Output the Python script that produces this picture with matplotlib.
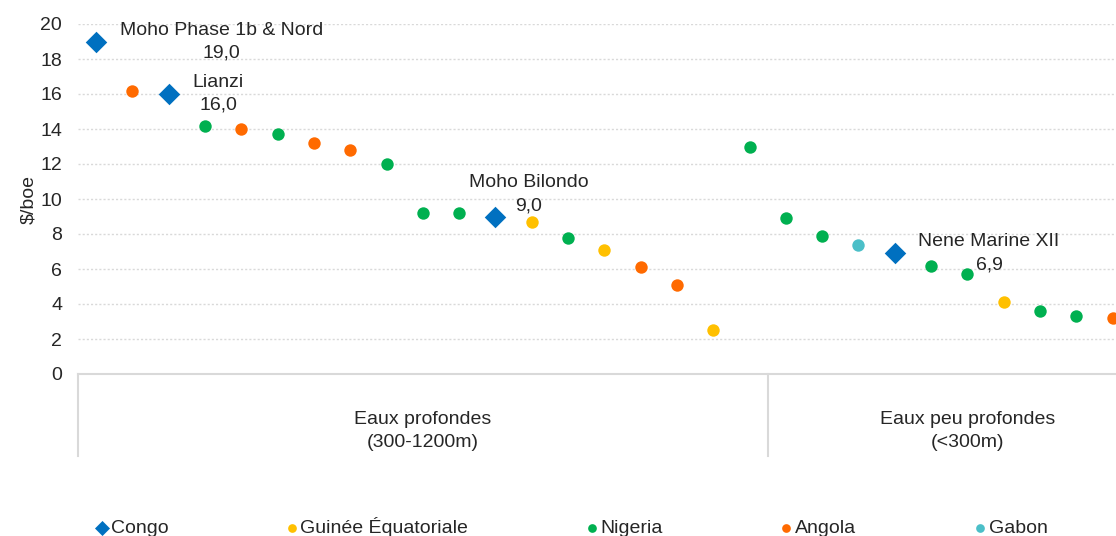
import matplotlib.pyplot as plt
import numpy as np

plt.rcParams["font.family"] = ["Liberation Sans", "DejaVu Sans"]

# one entry per project, left to right
countries = [
    "Congo", "Angola", "Congo", "Nigeria", "Angola", "Nigeria", "Angola", "Angola",
    "Nigeria", "Nigeria", "Nigeria", "Congo", "Guinée Équatoriale", "Nigeria",
    "Guinée Équatoriale", "Angola", "Angola", "Guinée Équatoriale", "Nigeria",
    "Nigeria", "Nigeria", "Gabon", "Congo", "Nigeria", "Nigeria",
    "Guinée Équatoriale", "Nigeria", "Nigeria", "Angola",
]
values = [
    19.0, 16.2, 16.0, 14.2, 14.0, 13.7, 13.2, 12.8, 12.0, 9.2, 9.2, 9.0, 8.7,
    7.8, 7.1, 6.1, 5.1, 2.5, 13.0, 8.9, 7.9, 7.4, 6.9, 6.2, 5.7, 4.1, 3.6, 3.3, 3.2,
]
# annotated Congo projects: index -> name
labels = {0: "Moho Phase 1b & Nord", 2: "Lianzi", 11: "Moho Bilondo", 22: "Nene Marine XII"}

groups = ["Eaux profondes\n(300-1200m)", "Eaux peu profondes\n(<300m)"]
group_sizes = [19, 11]

legend_order = ["Congo", "Guinée Équatoriale", "Nigeria", "Angola", "Gabon"]
colors = {
    "Congo": "#0070C0",
    "Guinée Équatoriale": "#FFC000",
    "Nigeria": "#00B050",
    "Angola": "#FF6A00",
    "Gabon": "#4BBFC8",
}

txt = "#262626"
grid_c = "#D9D9D9"
fs = 14

fig = plt.figure(figsize=(11.16, 5.36), dpi=100)
ax = fig.add_axes([78 / 1116, 1 - 374 / 536, 1089 / 1116, 350 / 536])

x = np.arange(len(values))
vals = np.array(values)
ctry = np.array(countries)
handles = {}
for c in legend_order:
    m = ctry == c
    if c == "Congo":
        h = ax.scatter(x[m], vals[m], marker="D", s=120, color=colors[c], zorder=3, linewidths=0)
    else:
        h = ax.scatter(x[m], vals[m], marker="o", s=80, color=colors[c], zorder=3, linewidths=0)
    handles[c] = h

for i, name in labels.items():
    label = f"{name}\n{values[i]:.1f}".replace(".", ",")
    if i == 11:
        ax.annotate(label, (x[i], values[i]), xytext=(24, 16), textcoords="offset points",
                    ha="center", va="center", multialignment="center",
                    fontsize=fs, color=txt, linespacing=1.45)
    else:
        ax.annotate(label, (x[i], values[i]), xytext=(17, 0), textcoords="offset points",
                    ha="left", va="center", multialignment="center",
                    fontsize=fs, color=txt, linespacing=1.45)

total = sum(group_sizes)
ax.set_xlim(-0.5, total - 0.5)
ax.set_ylim(0, 20)
ax.set_yticks(np.arange(0, 21, 2))
ax.set_xticks([])
ax.tick_params(axis="y", length=0, labelsize=fs, labelcolor=txt, pad=11.5)
ax.yaxis.grid(True, color=grid_c, linestyle=(0, (1.5, 1.5)), linewidth=1)
ax.set_axisbelow(True)
for s in ["top", "right", "left"]:
    ax.spines[s].set_visible(False)
ax.spines["bottom"].set_color(grid_c)
ax.spines["bottom"].set_linewidth(1.5)
ax.set_ylabel("\\$/boe", fontsize=fs, color=txt, labelpad=2)

# category boxes below the axis
tr = ax.get_xaxis_transform()
bounds = [-0.5]
for gs in group_sizes:
    bounds.append(bounds[-1] + gs)
for b in bounds[:-1]:
    ax.plot([b, b], [0, -0.235], transform=tr, color=grid_c, linewidth=1.5, clip_on=False)
for g, a, b in zip(groups, bounds[:-1], bounds[1:]):
    ax.text((a + b) / 2, -0.164, g, transform=tr, ha="center", va="center",
            fontsize=fs, color=txt, linespacing=1.45)

fig.legend([handles[c] for c in legend_order], legend_order, loc="center left",
           bbox_to_anchor=(97 / 1116, 1 - 527 / 536), ncol=5, frameon=False,
           fontsize=fs, labelcolor=txt, handlelength=0.5, handletextpad=0.2,
           columnspacing=6.1, markerscale=0.7, borderpad=0, borderaxespad=0)

fig.savefig("out.png", dpi=100)
